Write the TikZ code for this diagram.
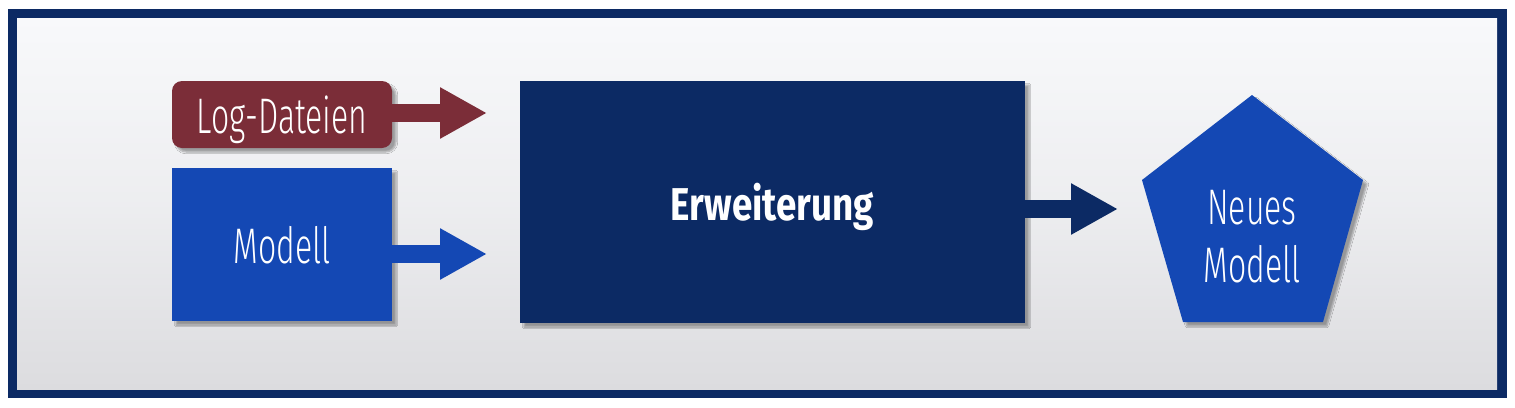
\documentclass[tikz,border=0pt]{standalone}
\usepackage{fontspec}
\newfontfamily\condfont[FakeStretch=0.64]{Fira Sans Light}
\newfontfamily\condbold[FakeStretch=0.8]{Fira Sans Bold}
\usetikzlibrary{arrows.meta,shadows.blur}
\definecolor{navy}{HTML}{0C2A64}
\definecolor{maroon}{HTML}{7B2D38}
\definecolor{royal}{HTML}{1448B4}
\definecolor{bgtop}{HTML}{F8F9FB}
\definecolor{bgbot}{HTML}{DCDCDF}
\begin{document}
\begin{tikzpicture}[x=1pt,y=-1pt,
  softshadow/.style={blur shadow={shadow xshift=4pt, shadow yshift=-4pt, shadow blur steps=6, shadow opacity=35}},
  label/.style={inner sep=0pt, text=white, font=\condfont\fontsize{50}{58}\selectfont},
  box/.style={label, text depth=0pt, softshadow},
  flowarrow/.style={line width=18pt, -{Triangle[length=47pt,width=48pt]}},
]
\useasboundingbox (0,0) rectangle (1515,407);
\fill[navy] (8,9) rectangle (1507,398);
\shade[top color=bgtop, bottom color=bgbot, middle color=bgtop!60!bgbot] (17,18) rectangle (1497,389);

\node[box, fill=maroon, rounded corners=10pt, minimum width=220pt, minimum height=67pt] (log) at (282,114.5) {Log-Dateien};
\node[box, fill=royal, minimum width=220pt, minimum height=153pt] (modell) at (282,244.5) {Modell};
\node[box, fill=navy, minimum width=505pt, minimum height=242pt,
  font=\condbold\fontsize{46}{52}\selectfont] (erw) at (772.5,202) {Erweiterung};

\coordinate (p1) at (1252,95);
\coordinate (p2) at (1363,180);
\coordinate (p3) at (1323,322);
\coordinate (p4) at (1183,322);
\coordinate (p5) at (1142,180);
\fill[royal, softshadow] (p1) -- (p2) -- (p3) -- (p4) -- (p5) -- cycle;
\node[label, anchor=base] (neu1) at (1252,224) {Neues};
\node[label, anchor=base] (neu2) at (1252,282) {Modell};

\coordinate (la) at (487,113);
\coordinate (ma) at (487,254);
\coordinate (ea) at (1118,209);
\draw[flowarrow, maroon] (log.east |- la) -- (la);
\draw[flowarrow, royal] (modell.east |- ma) -- (ma);
\draw[flowarrow, navy] (erw.east |- ea) -- (ea);
\end{tikzpicture}
\end{document}
